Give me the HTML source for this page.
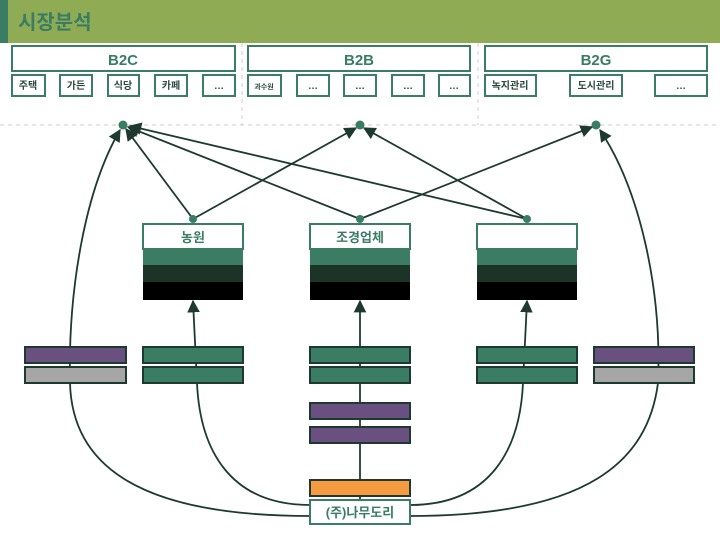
<!DOCTYPE html>
<html><head><meta charset="utf-8"><style>
body{margin:0;width:720px;height:540px;overflow:hidden;background:#fff;font-family:"Liberation Sans","Noto Sans CJK KR",sans-serif}
</style></head><body>
<svg width="720" height="540" viewBox="0 0 720 540" xmlns="http://www.w3.org/2000/svg" font-family="Liberation Sans, Noto Sans CJK KR, sans-serif">
<defs><marker id="a" viewBox="0 0 10 10" refX="9" refY="5" markerWidth="7" markerHeight="7" orient="auto"><path d="M0,0L10,5L0,10z" fill="#1e3a30"/></marker></defs>
<rect x="0" y="0" width="720" height="43" fill="#8fac55"/>
<rect x="0" y="0" width="8" height="43" fill="#3a7d64"/>
<text x="18" y="29" font-size="20" font-weight="bold" fill="#3a7d64">시장분석</text>
<g stroke="#ccc" stroke-dasharray="4,4" stroke-width="1"><line x1="0" y1="125" x2="720" y2="125"/><line x1="242" y1="43" x2="242" y2="125"/><line x1="478" y1="43" x2="478" y2="125"/></g>
<g fill="#fff" stroke="#3a7d64" stroke-width="2">
<rect x="12" y="46" width="223" height="25"/><rect x="248" y="46" width="222" height="25"/><rect x="485" y="46" width="222" height="25"/>
<rect x="12" y="75" width="33" height="21"/><rect x="60" y="75" width="32" height="21"/><rect x="108" y="75" width="31" height="21"/><rect x="155" y="75" width="32" height="21"/><rect x="203" y="75" width="32" height="21"/>
<rect x="248" y="75" width="33" height="21"/><rect x="297" y="75" width="32" height="21"/><rect x="344" y="75" width="32" height="21"/><rect x="392" y="75" width="32" height="21"/><rect x="439" y="75" width="31" height="21"/>
<rect x="485" y="75" width="51" height="21"/><rect x="570" y="75" width="52" height="21"/><rect x="655" y="75" width="52" height="21"/>
</g>
<g fill="#3a7d64" font-weight="bold" text-anchor="middle">
<text x="123" y="65" font-size="15">B2C</text><text x="359" y="65" font-size="15">B2B</text><text x="596" y="65" font-size="15">B2G</text>
<g font-size="10" fill="#2a4a3c"><text x="28" y="89">주택</text><text x="76" y="89">가든</text><text x="123" y="89">식당</text><text x="171" y="89">카페</text><text x="219" y="89">…</text>
<text x="264" y="89" font-size="7">과수원</text><text x="313" y="89">…</text><text x="360" y="89">…</text><text x="408" y="89">…</text><text x="454" y="89">…</text>
<text x="510" y="89">녹지관리</text><text x="596" y="89">도시관리</text><text x="681" y="89">…</text></g>
</g>
<g>
<g id="n"><rect x="143" y="224" width="100" height="25" fill="#fff" stroke="#3a7d64" stroke-width="2"/><rect x="143" y="249" width="100" height="16" fill="#3a7d64"/><rect x="143" y="265" width="100" height="17" fill="#1c3328"/><rect x="143" y="282" width="100" height="18" fill="#000"/></g>
<use href="#n" x="167"/><use href="#n" x="334"/>
<text x="193" y="242" font-size="13" font-weight="bold" fill="#3a7d64" text-anchor="middle">농원</text>
<text x="360" y="242" font-size="13" font-weight="bold" fill="#3a7d64" text-anchor="middle">조경업체</text>
</g>
<g fill="none" stroke="#1e3a30" stroke-width="1.8">
<line x1="193" y1="219" x2="126" y2="129" marker-end="url(#a)"/><line x1="193" y1="219" x2="356" y2="128" marker-end="url(#a)"/>
<line x1="360" y1="219" x2="128" y2="127" marker-end="url(#a)"/><line x1="360" y1="219" x2="592" y2="127" marker-end="url(#a)"/>
<line x1="527" y1="219" x2="130" y2="126" marker-end="url(#a)"/><line x1="527" y1="219" x2="364" y2="128" marker-end="url(#a)"/>
<path d="M310,516 C130,516 72,460 70,383 C68,290 85,190 120,130" marker-end="url(#a)"/>
<path d="M410,516 C590,516 648,460 658,383 C662,290 640,190 600,130" marker-end="url(#a)"/>
<path d="M310,505 C230,505 200,450 197,383 L193,301" marker-end="url(#a)"/>
<path d="M410,505 C490,505 520,450 523,383 L527,301" marker-end="url(#a)"/>
<line x1="360" y1="500" x2="360" y2="301" marker-end="url(#a)"/>
</g>
<g fill="#3a7d64"><circle cx="123" cy="125" r="4.5"/><circle cx="360" cy="125" r="4.5"/><circle cx="596" cy="125" r="4.5"/><circle cx="193" cy="219" r="4"/><circle cx="360" cy="219" r="4"/><circle cx="527" cy="219" r="4"/></g>
<g stroke="#1e3a30" stroke-width="2">
<rect x="25" y="347" width="101" height="16" fill="#6a5080"/><rect x="25" y="367" width="101" height="16" fill="#a6a6a6"/>
<rect x="594" y="347" width="100" height="16" fill="#6a5080"/><rect x="594" y="367" width="100" height="16" fill="#a6a6a6"/>
<rect x="143" y="347" width="100" height="16" fill="#3a7d64"/><rect x="143" y="367" width="100" height="16" fill="#3a7d64"/>
<rect x="310" y="347" width="100" height="16" fill="#3a7d64"/><rect x="310" y="367" width="100" height="16" fill="#3a7d64"/>
<rect x="477" y="347" width="100" height="16" fill="#3a7d64"/><rect x="477" y="367" width="100" height="16" fill="#3a7d64"/>
<rect x="310" y="403" width="100" height="16" fill="#6a5080"/><rect x="310" y="427" width="100" height="16" fill="#6a5080"/>
<rect x="310" y="480" width="100" height="16" fill="#f59a3e"/>
</g>
<rect x="310" y="500" width="100" height="24" fill="#fff" stroke="#3a7d64" stroke-width="2"/>
<text x="360" y="517" font-size="13" font-weight="bold" fill="#3a7d64" text-anchor="middle">(주)나무도리</text>
</svg>
</body></html>
